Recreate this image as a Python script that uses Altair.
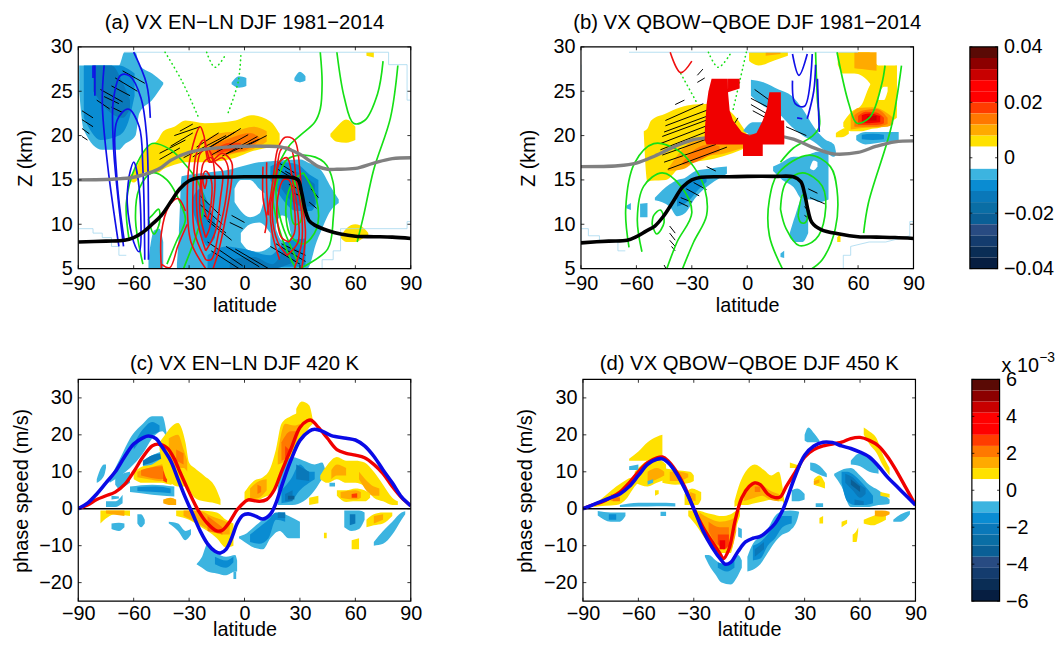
import altair as alt
import pandas as pd

FONT = "Liberation Sans"
W, H = 336, 224
LAT_TICKS = [-90, -60, -30, 0, 30, 60, 90]
Z_TICKS = [5, 10, 15, 20, 25, 30]
C_TICKS = [-20, -10, 0, 10, 20, 30]

FILL = {0: "#ffffff", 1: "#ffe100", 2: "#ffaa00", 3: "#ff7800", 4: "#ff3c00", 5: "#f00000", 6: "#c80000",
        -1: "#3cb4e0", -2: "#0a8cd2", -3: "#0a78b9", -4: "#0a5f96", -5: "#143c6e"}

# ---------- panel (a) ----------
A_BLOBS = [
    (-1, [(-89.5, 25, 27.9), (-87, 20.6, 27.9), (-77, 18.4, 27.9), (-68, 18.4, 27.9), (-65, 19, 29.4), (-59, 20, 29.4), (-57, 22.5, 28), (-50, 24, 27), (-44, 25.8, 26)]),
    (-2, [(-87, 22, 27.9), (-78, 19.5, 27.9), (-68, 20, 27.9), (-63, 21.5, 27.5), (-59.5, 24.5, 27)]),
    (-3, [(-82, 25, 27.9), (-72, 22.5, 27.9), (-66, 22, 26), (-62, 23, 24)]),
    (-1, [(-52, 5, 6), (-49, 5, 9.3), (-46, 5, 9.5), (-44, 5, 8)]),
    (-1, [(-36.6, 5, 5.5), (-35.5, 5, 9), (-34, 5, 15.4), (-21.5, 5, 15.8), (-7, 5, 16.2), (-1.8, 5, 16.5), (5.4, 5, 16.9), (14.3, 5, 17.1), (30.4, 5, 17.3), (34, 5, 17), (39, 8, 16.5), (41, 9, 16.2), (46.5, 11.5, 14.3), (51, 12.4, 12.8)]),
    (0, [(-5.4, 12.5, 14), (-2, 11.5, 15), (3, 10.8, 15), (8, 11.2, 14), (10.7, 13, 13.5)]),
    (0, [(-2, 8, 9), (3, 7, 10), (8, 6.9, 10.2), (14, 7.5, 9)]),
    (0, [(17, 9.5, 10), (20, 8.2, 11), (23, 8, 10.8), (25, 8.5, 9)]),
    (0, [(-40, 5, 5.2), (-37.5, 5, 10)]),
    (-2, [(-28, 11.5, 13), (-24, 9, 14), (-20, 7.5, 12.5), (-16, 8.5, 10.5)]),
    (-2, [(-20, 5, 6.5), (-10, 5, 7.5), (0, 5, 7.2), (14, 5, 6.5), (22, 5.2, 8), (33, 5.2, 8.4)]),
    (-3, [(-8, 5, 6), (5, 5, 6.3), (15, 5, 5.5), (24, 5.5, 7.5), (30, 6, 7)]),
    (-2, [(14, 15, 16.5), (20, 13, 17), (28, 11.5, 16.8), (36, 11.5, 15.5), (40, 13, 15)]),
    (-3, [(20, 14, 15.5), (26, 12.5, 16), (32, 12, 15.5), (38, 12, 14.5)]),
    (1, [(-63, 15.2, 15.4), (-60, 14.7, 15.9), (-54, 15.9, 18.4), (-47, 15.8, 19.5), (-44, 16.2, 20.5), (-38, 16.7, 21), (-32, 17, 21.7), (-21.5, 17, 21.4), (-5, 17.5, 21.7), (3.6, 18.2, 22.3), (14, 18.7, 21.6), (19, 19, 20.2)]),
    (2, [(-21, 17.5, 19.5), (-15, 17.5, 20.2), (-5, 18, 20.5), (5, 18.5, 21), (12, 19.3, 20.5)]),
    (3, [(-19, 17.7, 18.7), (-8, 18, 19.7), (3, 18.6, 20.3), (8, 19.5, 19.8)]),
    (4, [(-15, 18, 18.6), (-8, 18.3, 19.2), (-2, 18.6, 19.2)]),
    (1, [(46.5, 19.9, 20.2), (50, 19.3, 21), (55, 19.2, 21.8), (60, 19.5, 21)]),
    (1, [(52, 8.5, 8.6), (55, 8, 9.5), (60, 8, 10), (65, 8.5, 9.5), (67, 8.7, 9)]),
    (1, [(66, 29, 29.4), (70, 28.8, 29.4)]),
    (-1, [(-7, 25.8, 26), (-3, 25.4, 26.7), (1, 25.6, 26.5)]),
    (-1, [(27, 26.2, 26.5), (30, 26, 27.2), (33, 26.2, 26.7)]),
]
A_MASK = [
    [(-90, 9.5), (-82, 9.5), (-82, 9), (-77, 9), (-77, 8.5), (-72, 8.5), (-72, 7.5), (-68, 7.5), (-68, 6.5), (-64, 6.5)],
    [(37, 5), (42, 5), (42, 6), (48, 6), (48, 7), (52, 7), (52, 9.5), (88, 9.5), (88, 10.3), (90, 10.3)],
    [(-65, 29.4), (72, 29.4), (78, 29.4), (78, 28), (88, 28), (88, 24), (90, 24)],
]
A_HATCH = [
    (-66, 27.3, -54, 25.9), (-70, 26.5, -58, 25), (-72, 25.6, -62, 24.5), (-78, 25.2, -66, 23.8), (-76, 24.4, -68, 23.6), (-80, 24, -73, 23),
    (-72, 23.2, -66, 22.6), (-88, 22.8, -82, 22), (-88, 21.8, -82, 21), (-88, 20.8, -84, 20.2), (-88, 19.9, -85, 19.5),
    (-46, 17.3, -35, 18.6), (-46, 18, -32, 19.5), (-40, 18.8, -28, 20.3), (-38, 20, -24, 21), (-35, 20.5, -28, 21.3),
    (-33, 17.5, -10, 20), (-28, 17.6, -5, 20.4), (-18, 17.8, 2, 20.1), (-12, 17.7, 7, 19.9), (-20, 18.5, -2, 20.8), (-26, 18.7, -14, 20.3), (-10, 17.9, 8, 19.6), (-2, 18.5, 12, 20),
    (-24, 13.2, -13, 11), (-24, 12.2, -12, 10), (-22, 11, -10, 9), (-20, 10.4, -7, 8.2), (-7, 11, 0, 10.2), (-8, 10.2, -1, 9.5),
    (-18, 7, -3, 5), (-20, 8, -1, 5.3), (-10, 7.5, 8, 5.2), (-5, 7.2, 13, 5),
    (14, 7.5, 30, 5.5), (17, 7.8, 33, 5.8), (20, 7.8, 33, 6.5),
    (18, 17, 27, 15.8), (18, 16.2, 30, 14.7), (22, 16, 30, 15), (24, 14.5, 31, 13.8), (27, 13.5, 32, 13), (35, 12.5, 39, 11.8), (36, 14, 40, 13),
]
A_GREEN = [
    [(41, 29.4), (42, 26), (41, 23), (38, 21.5), (30, 20), (24, 18.8), (19, 17), (16, 15.4), (15, 13.5), (18, 10), (24, 6.5), (28, 5)],
    [(30, 5), (45, 7.2), (48, 10.6), (48, 14.7), (43, 17), (32, 17.8), (23, 17.3), (19, 15.7), (17, 13.9), (20, 10.2), (29, 5.7)],
    [(32, 15.8), (39, 12.8), (39, 9.5), (32, 7.8), (25, 8.7), (22.5, 12.4), (27, 15), (32, 15.8)],
    [(27, 14.8), (31, 12.5), (30, 10.2), (27, 10), (25, 12), (27, 14.8)],
    [(50, 29.4), (54, 24.3), (59, 21.4), (65, 21.7), (72, 24.7), (75, 28.4)],
    [(83, 27.9), (79, 22), (70, 16.2), (64.5, 11), (61, 8)],
    [(-62.5, 8.3), (-64, 12.4), (-59, 16.5), (-50, 19.1), (-40, 18.4), (-34, 17.2), (-25, 14.7), (-22, 12.4), (-25, 9.5), (-33, 5)],
    [(-55, 5.5), (-59, 10.5), (-57, 14), (-50, 15.8), (-42, 15), (-34, 12), (-32, 10.5), (-37, 8), (-42, 5.5)],
    [(-52, 10.6), (-49, 8.9), (-46, 10.2), (-46.5, 11.7), (-50, 11), (-52, 10.6)],
]
A_DOTS = [
    [(-43, 29.4), (-34, 26.2), (-25, 22.1)],
    [(-20.5, 29.4), (-16, 27.7), (-10, 29.2)],
    [(-2, 29), (-3.5, 26), (-9, 22.5)],
]
A_RED = [
    [(-45, 5.5), (-40.5, 5.1), (-36, 7.6), (-31, 10)],
    [(-45, 5), (-45, 9), (-41, 12), (-36, 12.9), (-32, 11.5)],
    [(-21, 5), (-29, 8), (-31, 13), (-29, 18), (-24, 21), (-22, 20), (-19, 17), (-12, 18), (-7, 17), (-7, 15), (-10, 11), (-14, 7), (-17, 5)],
    [(-21, 6), (-27, 9), (-28, 13), (-26, 18), (-22, 19.5), (-18, 17), (-12, 17.5), (-9, 16.5), (-10, 13), (-14, 9), (-18, 6), (-21, 6)],
    [(-21, 7), (-25, 10), (-26, 14), (-24, 18), (-20, 18.5), (-16, 17), (-12, 16), (-13, 13), (-16, 9), (-21, 7)],
    [(-21, 8.5), (-24, 11), (-24, 14), (-22, 17), (-18, 17.5), (-16, 15), (-17, 12), (-19, 9.5), (-21, 8.5)],
    [(-20, 10.5), (-22, 12), (-23, 15), (-21, 16), (-18, 15), (-18, 12.5), (-20, 10.5)],
    [(-21.5, 14), (-22.5, 15), (-21.5, 15.5), (-20.5, 15), (-21.5, 14)],
    [(31, 5), (33, 9), (31, 13), (30, 16), (27, 19.5), (22, 19.8), (18, 18.5), (16, 16), (14, 13), (12, 11)],
    [(27, 5), (31, 8), (31, 11), (28, 15), (25, 18.5), (20, 18.5), (17, 15), (14, 12), (15, 9), (19, 6)],
    [(23, 6.5), (29, 8), (29, 11), (26, 15), (23, 17.5), (19, 17), (16, 14), (15, 11), (18, 8), (23, 6.5)],
    [(24, 8), (27, 9), (27, 12), (24, 15), (21, 15), (18, 13), (18, 10), (20, 8.5), (24, 8)],
    [(10, 16.5), (10, 13), (12, 10.5), (11, 9)],
    [(12, 17), (12, 14), (13, 11)],
]
A_BLUE = [
    [(-60, 29.4), (-53, 25.8), (-51, 22)],
    [(-76, 27.9), (-77, 23.6), (-74, 16.5), (-68, 7.5)],
    [(-65.5, 7.5), (-69, 14), (-71, 19), (-71, 24), (-67, 26.8), (-62, 26.7), (-56, 24.2), (-53, 20), (-52, 12), (-52, 6)],
    [(-65, 8), (-69, 15), (-69, 21.7), (-63, 23), (-57, 21), (-55, 16.2), (-54, 6)],
    [(-62.5, 15.4), (-60, 17), (-57, 14), (-57, 6.9), (-60, 8), (-63.5, 12.4), (-62.5, 15.4)],
    [(-82, 27.9), (-82, 26.5)],
    [(-81, 27.9), (-81, 24.5)],
]
A_GRAY = [(-90, 15), (-70, 15.1), (-60, 15.3), (-50, 15.9), (-45, 16.4), (-40, 17.2), (-30, 18.1), (-20, 18.5), (-10, 18.7), (0, 18.8), (10, 18.8), (20, 18.7), (30, 17.9), (35, 17.2), (40, 16.5), (45, 16.2), (50, 16.2), (60, 16.3), (70, 16.9), (80, 17.4), (90, 17.5)]
A_BLACK = [(-90, 8), (-75, 8.1), (-65, 8.2), (-60, 8.5), (-55, 9.1), (-50, 10), (-45, 11), (-40, 12.5), (-35, 14), (-30, 14.9), (-25, 15.25), (-15, 15.3), (0, 15.35), (15, 15.35), (25, 15.3), (29, 15), (31, 13.5), (33, 11.5), (35, 10.4), (38, 9.9), (45, 9.3), (52, 8.9), (60, 8.65), (70, 8.6), (80, 8.55), (90, 8.4)]

# ---------- panel (b) ----------
B_BLOBS = [
    (1, [(-56, 20.2, 20.5), (-54, 14.8, 20.8), (-52, 14.9, 21.7), (-44, 15, 22.5), (-36, 16.5, 23.2), (-29, 17, 23.5), (-18, 17.4, 23.6), (-8, 18, 22.5), (1, 18.8, 19.8)]),
    (2, [(-43, 16, 16.2), (-35, 16.2, 18.5), (-25, 17.5, 19.8), (-12, 18, 20), (0, 18.8, 19.5)]),
    (3, [(-35, 16.7, 17), (-28, 17, 18.5), (-20, 17.8, 19), (-15, 18.2, 18.8)]),
    (1, [(1, 28.4, 29.4), (6, 27.9, 29.4), (15, 28.5, 29.4), (22, 29, 29.4)]),
    (2, [(10, 29, 29.4), (18, 29.2, 29.4)]),
    (1, [(49, 28, 29.4), (52, 27, 29.4), (58, 27, 29.4), (66, 26, 29.4), (71, 24, 27.9), (80, 22, 27.9), (81, 23, 27.9)]),
    (1, [(52, 21, 21.5), (56, 20.5, 22.6), (62, 20.5, 23.5), (66, 20.7, 25.5), (72, 20.9, 27), (81, 22, 27.9)]),
    (0, [(71, 24, 24.5), (74, 24, 25.5), (76, 25, 25.5)]),
    (2, [(58, 27.6, 29.4), (62, 27.5, 29.4), (70, 27.3, 29.4)]),
    (2, [(56, 20.7, 22.2), (60, 20.8, 23.1), (68, 20.9, 23.2), (76, 21, 22.5), (79, 21.3, 22)]),
    (3, [(58, 21, 22.3), (62, 21, 22.8), (70, 21, 23), (76, 21.3, 22)]),
    (4, [(60, 21.2, 22.2), (64, 21.2, 22.7), (70, 21.2, 22.6), (74, 21.4, 22)]),
    (5, [(62, 21.4, 22.3), (66, 21.4, 22.5), (72, 21.5, 22.2)]),
    (6, [(65, 21.7, 22.2), (70, 21.7, 22.2)]),
    (1, [(48, 19.8, 20.3), (51, 19.8, 20.7), (55, 20.2, 20.9)]),
    (-1, [(59, 19.5, 20), (64, 19, 20.4), (75, 19.3, 20.4), (82, 19.4, 20.4)]),
    (-2, [(62, 19.6, 20.1), (68, 19.5, 20.2), (74, 19.6, 20.1)]),
    (-1, [(2, 24.5, 26.3), (9, 23.3, 26), (17, 22.5, 25.2), (24, 21, 24.5), (30, 20, 23), (36, 19.3, 21), (42, 18.3, 19.6), (47, 17.6, 19), (48, 17.8, 18.2)]),
    (-1, [(-2, 20.5, 20.6), (3, 20, 21.5), (10, 19.8, 21.5), (16, 20, 21)]),
    (-1, [(-50, 12.7, 13), (-42, 12, 14.5), (-38, 10.9, 15), (-34, 11.2, 15.2), (-28, 13, 16), (-20, 14.5, 16.3), (-11, 15.7, 16.5)]),
    (-2, [(-38, 12, 13), (-32, 12.6, 14.5), (-26, 14, 15.3), (-22, 14.8, 15.1)]),
    (-1, [(14, 16, 16.5), (19, 15, 17), (25, 14.2, 17.6), (30, 12.8, 17.6), (35, 12.8, 18), (39, 12.5, 18.2), (44, 12.8, 18)]),
    (0, [(34, 16.3, 16.4), (36, 16.1, 17.2), (38, 16.5, 17)]),
    (-1, [(23, 8.5, 9), (26, 8, 11), (30, 8, 13), (33, 9, 12)]),
    (-1, [(-65.5, 11.8, 12.1), (-63, 11.6, 12.4)]),
    (-1, [(-58, 10.8, 12.3), (-54, 10.8, 12.4)]),
    (-1, [(18, 6.3, 6.7), (20, 6.2, 7)]),
    (1, [(48.7, 8, 8.5), (50.5, 8, 9)]),
]
B_MASK = [
    [(-90, 9.5), (-86, 9.5), (-86, 8.7), (-80, 8.7), (-80, 8.2), (-70, 8), (-70, 7), (-66, 7)],
    [(45, 5), (52, 5), (52, 6.5), (56, 6.5), (56, 7.5), (66, 8), (75, 8), (88, 8.7), (88, 10.3), (90, 10.3)],
    [(-64, 29.4), (60, 29.4)],
    [(-90, 8), (-90, 28)],
]
B_HATCH = [
    (-44.3, 21.7, -23.8, 23.6), (-44.3, 21.1, -20, 23), (-45, 20.4, -19, 22.4), (-46, 19.9, -20, 21.9), (-47, 19.1, -22, 21.1), (-47, 18.4, -20, 20.6), (-46, 17.8, -18, 19.9), (-45, 17, -17, 19), (-43, 16.2, -11, 18.7),
    (-12, 19.3, -5, 20), (-8, 21, -5, 22), (-27, 26.8, -24, 27.5), (-27, 26, -23, 26.5),
    (4, 25.2, 14, 23.7), (2, 24.2, 15, 22.8), (2, 23.5, 12, 22.3), (3, 22.8, 12, 21.8), (21, 21, 32, 20), (22, 19.8, 30, 19.3),
    (-29, 14.7, -22, 13.9), (-33, 14, -26, 13.2), (-36, 13, -30, 12.5), (-37, 12.5, -32, 12), (-22, 16.5, -17, 16),
    (33, 14, 38, 13.5), (34, 13, 42, 12.3), (31, 12, 33, 11.5), (31, 11, 33, 10.7),
    (-42, 9.8, -39, 9), (-42, 9, -39, 8.2), (-42, 8.2, -39, 7.5), (-41, 7.5, -39, 7), (-45, 5.4, -44, 5), (-39, 23.5, -34, 24),
]
B_U = [
    (5, [(-23, 19.5, 20.5), (-22, 19, 23.5), (-21, 19, 25), (-19.3, 19, 26.4), (-10.5, 19, 26.4), (-10.4, 19, 24.9), (-9.5, 19, 22.8), (-7.7, 19, 21.7), (-3, 19, 20.4), (1.3, 19, 20), (5, 19, 20.3), (8.4, 19, 21.7), (10.5, 19, 23), (12, 19, 24.9), (18.2, 19, 24.9), (18.3, 19, 21.7), (20, 19, 21.7), (20.1, 19.3, 19.4)]),
    (5, [(-10.4, 24.9, 26.4), (-4.1, 25.3, 26.4)]),
    (5, [(-2.3, 17.7, 19.5), (8.4, 17.7, 19.5)]),
]
B_GREEN = [
    [(-64, 7.4), (-65.8, 11.7), (-61, 16.9), (-50.6, 19.1), (-38, 18.4), (-29, 16.5), (-23, 14), (-22, 11), (-29, 8), (-35, 5)],
    [(-57, 6.9), (-59.5, 10.6), (-56, 14.3), (-46, 15.8), (-36, 14.3), (-30, 11.3), (-38, 8), (-43.5, 5)],
    [(-51.5, 10), (-49, 8.9), (-45, 10.2), (-47, 11.6), (-50.6, 11), (-51.5, 10)],
    [(19, 5), (12, 8.7), (12, 12.8), (17, 15.8), (33.5, 17.8), (45, 16.5), (48.6, 13.9), (47.7, 9.5), (40.6, 6), (35, 5)],
    [(18, 11.7), (21, 14.7), (30, 15.8), (40.6, 14.3), (42, 10.9), (37, 8.3), (28, 7.6), (21, 9.5), (18, 11.7)],
    [(27.5, 11), (30, 13.3), (32.5, 11.7), (31.6, 10.2), (29, 10.2), (27.5, 11)],
    [(37, 29.4), (38, 24), (39, 21), (35, 19.9), (25, 18.6), (18, 17)],
    [(48.6, 29.4), (55, 23.6), (59.4, 21.4), (66.5, 22.1), (72.8, 25.8), (74.6, 27.9)],
    [(83.5, 27.9), (78, 21), (65.6, 12.4), (63, 9)],
]
B_DOTS = [
    [(-21, 29.4), (-15.7, 27.7), (-8.6, 29.4)],
    [(-0.5, 29.4), (-4, 26.2), (-7.7, 22.9)],
    [(-36, 27), (-27, 23.6)],
]
B_RED = [[(-41.7, 29.4), (-36, 27.1), (-30, 28.4)]]
B_BLUE = [
    [(24.5, 29.2), (28, 26.8), (32.5, 29.2)],
    [(24.5, 26.2), (26, 23.6), (31, 23.3), (35.2, 29.2)],
    [(38, 26.4), (39, 20.4)],
    [(27, 22), (29.8, 21.9)],
    [(32.5, 21.9), (36, 25), (37, 28)],
]
B_GRAY = [(-90, 16.5), (-70, 16.6), (-60, 16.9), (-50, 17.7), (-40, 18.7), (-30, 19.5), (-20, 19.8), (-10, 20), (0, 20), (15, 20), (25, 19.6), (35, 18.7), (45, 18), (50, 17.9), (60, 18.1), (70, 18.8), (80, 19.3), (90, 19.4)]
B_BLACK = [(-90, 7.9), (-75, 8.1), (-65, 8.2), (-60, 8.6), (-55, 9.2), (-50, 9.8), (-45, 11), (-40, 12.6), (-35, 14.2), (-30, 15), (-25, 15.3), (-10, 15.35), (0, 15.4), (15, 15.4), (25, 15.35), (29, 14.8), (31, 13.5), (33, 11.5), (35, 10.2), (40, 9.4), (50, 8.9), (60, 8.6), (70, 8.55), (80, 8.5), (90, 8.4)]

# ---------- panel (c) ----------
C_BLOBS = [
    (-1, [(-73, 7, 8), (-67, 9, 14), (-62, 11, 19), (-55, 15, 23), (-50, 19, 25), (-44.5, 21, 25), (-42, 19, 20)]),
    (-2, [(-60, 16, 17.5), (-55, 19, 21.5), (-50, 20, 23.5), (-46, 21, 22.5)]),
    (-1, [(-80, 7, 8), (-76, 9, 12), (-75, 11, 12)]),
    (-1, [(-70, 6.5, 8), (-68, 5.5, 9), (-62, 7, 10)]),
    (-1, [(-62, 4.5, 6), (-50, 3.8, 6.5), (-38, 3.3, 6)]),
    (-2, [(-58, 4.8, 5.8), (-48, 4.5, 6), (-40, 4.2, 5.5)]),
    (-1, [(-75, 0.5, 2), (-70, 0.5, 2), (-66, 1.5, 3.8)]),
    (-1, [(-72, 2.5, 3.5), (-68, 2.8, 3.3)]),
    (-1, [(-55, 11.5, 13), (-50, 11.8, 14.5), (-45, 13, 15.5), (-41, 14, 16)]),
    (-3, [(-55, 11.8, 13), (-50, 12.5, 14.5), (-45, 13.5, 15), (-42, 14, 15.5)]),
    (1, [(-60, 8, 10), (-55, 7, 11.5), (-50, 7, 12), (-45, 7, 13.5), (-40, 6.5, 14), (-38, 7, 11)]),
    (2, [(-58, 8.5, 10), (-52, 8, 11), (-45, 7.5, 12), (-40, 8, 12.5)]),
    (3, [(-56, 9, 10.5), (-45, 8, 11.5), (-40, 9, 11.5)]),
    (4, [(-44, 7.5, 10), (-42, 7, 11)]),
    (1, [(-46, 16, 18), (-43, 9, 20), (-40, 7, 22), (-36, 6, 23.2), (-32, 6, 18), (-30, 5, 12.5), (-27, 3, 11), (-22, 2, 9), (-16, 1.5, 6), (-13, 1, 2.5)]),
    (2, [(-41, 13, 19), (-36, 11, 20), (-33, 11, 16), (-31, 10, 13)]),
    (3, [(-37, 13, 16), (-33, 12, 15)]),
    (2, [(-44, 1.5, 2.5), (-40, 1, 3), (-37, 1, 2.5)]),
    (1, [(-78, -4, -0.5), (-70, -1.5, -0.5), (-62, -2, -0.5)]),
    (2, [(-75, -1.3, -0.5), (-65, -2, -0.5)]),
    (-1, [(-72, -5.5, -4), (-68, -6, -3.8), (-65, -5, -4)]),
    (-1, [(-58, -4, -1.5), (-56, -5, -1.5), (-54, -4, -3)]),
    (-1, [(-41, -4, -3.5), (-36, -6, -4), (-32, -8.5, -6), (-29, -7, -5.5)]),
    (1, [(-37, -2, -0.5), (-30, -3, -0.5), (-25, -4.5, -0.5), (-15, -8, -1), (-10, -10.5, -3), (-6, -10, -4)]),
    (2, [(-33, -2, -0.5), (-25, -4, -0.5), (-18, -6, -2), (-10, -7, -3.5), (-8, -7, -4)]),
    (3, [(-20, -6, -2), (-12, -7, -5)]),
    (-1, [(-26, -15, -15), (-23, -16, -13), (-20, -17, -9.5), (-15, -17.5, -12), (-10, -18, -13), (-5, -17, -12.5), (-4, -17, -14)]),
    (-1, [(-6, -19, -17), (-4.5, -19, -17)]),
    (-2, [(-16, -15, -13), (-10, -16, -14), (-6, -14.5, -13)]),
    (-1, [(-3, -8, -7.5), (0, -9, -7), (5, -10.5, -5), (10, -11, -3), (14, -8, -2), (19, -6, -1), (24, -8, -2), (30, -8, -3.5)]),
    (-2, [(3, -9, -7), (8, -9.5, -5), (13, -8, -3), (17, -3, -1), (22, -3.5, -1)]),
    (-3, [(18, -2.5, -1), (22, -2.5, -1)]),
    (1, [(28, 20, 27), (31, 19, 29), (35, 22, 28), (37, 23, 24)]),
    (1, [(0, 2, 4.5), (5, 2, 7.5), (10, 3, 8.5), (14, 4, 11), (17, 6, 16), (20, 9, 23), (25, 13, 25), (30, 18, 26), (33, 21, 24)]),
    (2, [(3, 2.5, 5.5), (8, 3, 7.5), (12, 5, 8)]),
    (2, [(18, 12, 15), (22, 13, 23), (27, 17, 22.5), (30, 21, 23)]),
    (3, [(7, 4, 6.5), (9, 4.5, 6)]),
    (3, [(20, 13, 18), (25, 15, 21), (28, 19, 21)]),
    (4, [(22, 13, 17), (24, 14, 16)]),
    (-1, [(18, 1, 6), (22, 1, 12), (26, 1, 14), (32, 2, 13), (38, 5, 12), (42, 8, 12.5), (44, 9, 10)]),
    (-2, [(20, 1.5, 5), (25, 2, 8), (30, 5, 12), (35, 7, 10), (38, 8, 10)]),
    (-3, [(22, 2, 4), (26, 2, 5)]),
    (-3, [(28, 8, 12), (35, 7.5, 10)]),
    (-4, [(23.5, 2.5, 3.5), (27, 2.5, 3.5)]),
    (1, [(41, 8, 9), (45, 7, 12), (50, 8, 14), (55, 7, 13), (60, 7, 13), (65, 6, 12.5), (70, 3, 10), (75, 2, 6.5), (80, 1, 3), (83, 1, 2)]),
    (2, [(47, 8, 10.5), (50, 9, 12), (55, 9, 11)]),
    (2, [(62, 8, 10), (70, 3.5, 6), (73, 3.5, 5.5)]),
    (1, [(50, 3.5, 5), (55, 1.8, 5), (60, 2, 5.5), (65, 2, 5), (68, 3, 4)]),
    (2, [(52, 3, 4.5), (60, 2.5, 5), (63, 3, 4.5)]),
    (4, [(58, 3, 4), (61, 3, 4.2)]),
    (-1, [(46, 6, 7), (49, 6, 7)]),
    (1, [(35, 1, 3), (40, 1.5, 3.5)]),
    (-1, [(54, -5, -0.5), (58, -6, -0.5), (62, -5.5, -0.5), (65, -3, -1)]),
    (-3, [(57, -4.5, -1.5), (60, -4, -1.5)]),
    (1, [(66, -5, -3), (70, -4.5, -1.5), (75, -4, -1), (80, -2, -1)]),
    (2, [(70, -4, -2), (75, -3, -1.5)]),
    (-1, [(70, -10, -9), (75, -9.5, -6), (80, -7, -3.5), (85, -3, -1), (87, -1.5, -0.7)]),
    (1, [(58, -11, -8.5), (62, -11, -8)]),
    (1, [(43, -8, -6.5), (44.5, -8, -6.5)]),
]
C_RED = [(-90, 0), (-85, 1), (-80, 2.5), (-75, 3.5), (-70, 4.5), (-65, 6.5), (-60, 10), (-55, 14), (-50, 17), (-47, 17.5), (-42, 16.5), (-38, 13.5), (-35, 10), (-30, 4.5), (-25, -0.5), (-20, -4), (-15, -6), (-12, -5.8), (-8, -3.5), (-4, -0.3), (0, 1.8), (2, 2.4), (8, 2), (12, 2.5), (16, 5), (20, 10), (25, 16), (30, 22), (34, 23.8), (36, 24), (40, 22), (45, 19), (50, 16), (55, 15), (60, 14.5), (65, 13.8), (70, 12), (75, 9.5), (80, 6), (85, 3), (90, 0.8)]
C_BLUE = [(-90, 0), (-85, 1.5), (-80, 4), (-75, 7), (-70, 10), (-65, 14), (-60, 17.5), (-55, 19.2), (-52, 19.7), (-48, 19), (-45, 17), (-40, 13), (-36, 8), (-32, 3), (-28, -1.5), (-24, -6), (-20, -9.5), (-16, -11.5), (-13, -12), (-10, -11), (-7, -8), (-4, -4), (-1, -1.8), (2, -1.4), (6, -2), (10, -2.8), (14, -1.5), (17, 1.5), (20, 6), (25, 13), (30, 18.5), (35, 21), (38, 21.5), (42, 21), (47, 19.8), (55, 19.1), (60, 18.6), (65, 17), (70, 14.2), (75, 10.5), (80, 7), (85, 3.2), (90, 0.8)]

# ---------- panel (d) ----------
D_BLOBS = [
    (1, [(-84, 0.5, 1), (-78, 0.8, 3.5), (-72, 1, 6), (-66, 3, 8), (-62, 6, 9), (-58, 8, 12)]),
    (1, [(-65, 13, 13.5), (-60, 13, 15.5), (-55, 13, 18), (-50, 14, 19.5), (-47, 14.5, 20)]),
    (1, [(-62, 7, 10), (-55, 6, 13), (-50, 7, 13.5), (-45, 8, 12)]),
    (1, [(-47, 7, 11), (-40, 6.5, 10.5), (-32, 7, 10), (-30, 7.5, 9)]),
    (2, [(-75, 2, 4), (-70, 2.5, 4)]),
    (2, [(-55, 7, 10), (-50, 8, 11), (-46, 9, 10)]),
    (2, [(-43, 7.5, 10), (-38, 7.5, 10), (-33, 8.5, 9.5)]),
    (3, [(-74, 2, 3.5), (-70, 2, 3)]),
    (1, [(-35, 1, 4), (-31, 1, 5.5), (-28, 1, 5), (-26, 2.5, 4.5)]),
    (2, [(-32, 2.5, 4.5), (-29, 2, 4)]),
    (1, [(-51, 3.5, 5), (-49, 4, 5)]),
    (-1, [(-65, 10.5, 11.5), (-60, 10.5, 12)]),
    (-1, [(-55, 6.5, 7.5), (-52, 7, 8)]),
    (-1, [(-70, 0.5, 1), (-60, 0.6, 1.6), (-50, 0.7, 1.6), (-40, 0.6, 1.5)]),
    (-1, [(-82, -1.8, -0.6), (-75, -3.5, -1), (-70, -3.5, -1), (-67, -2, -1)]),
    (-2, [(-76, -3, -1.5), (-72, -3, -1.5)]),
    (-1, [(-48, -2, -0.8), (-45, -2, -0.8)]),
    (1, [(-33, -2, -0.5), (-28, -5, -0.5), (-24, -8, -1), (-20, -10, -1.5), (-15, -12, -2), (-10, -12, -1.5), (-7, -5, -0.6), (-5, -2, -0.5)]),
    (2, [(-27, -3, -1), (-22, -7, -2.5), (-16, -11, -3.5), (-10, -11, -3), (-7, -6, -2)]),
    (3, [(-22, -6, -3.5), (-16, -10, -5), (-11, -10, -5)]),
    (4, [(-17, -9.5, -7), (-14, -11, -7), (-11, -10, -7)]),
    (5, [(-16, -11, -8.5), (-13, -11, -8.5)]),
    (-1, [(-24, -13, -12.5), (-22, -15, -12.5), (-18, -18, -14), (-15, -20, -15), (-10, -20.5, -15), (-6, -18, -12.5), (-4, -16, -14)]),
    (-2, [(-17, -16, -14.5), (-12, -17, -15), (-8, -16, -13)]),
    (-1, [(-6, -7.5, -5), (-4, -8, -5.5)]),
    (-1, [(-1, -17, -13), (2, -16.5, -9.5), (6, -15, -7.5), (10, -12, -5.5), (14, -9, -2), (18, -7, -0.7), (22, -6, -0.5), (26, -3, -0.7), (27, -1, -0.8)]),
    (-2, [(2, -14, -10), (6, -13.5, -9), (10, -10, -7), (14, -8, -4), (18, -5, -2), (23, -4, -2)]),
    (-3, [(3, -13, -11), (8, -11, -9)]),
    (1, [(-8, 0.5, 2), (-5, 1, 7), (-2, 1, 10), (3, 1.5, 12), (8, 2, 10.5), (12, 2.5, 9), (16, 2, 10), (18, 2, 6), (19, 1, 2)]),
    (2, [(-3, 2, 5), (3, 3, 7.5), (7, 3.5, 6.5), (11, 2.5, 5), (16, 2, 4)]),
    (3, [(3, 4.5, 6), (6, 4.5, 6)]),
    (1, [(22, 11, 12.5), (28, 11, 11.5)]),
    (1, [(35, 6.5, 8), (38, 6, 9), (41, 5.5, 7)]),
    (2, [(35, 6.5, 7.5), (38, 7, 8)]),
    (-1, [(30, 18.5, 20), (32, 18, 22), (35, 18, 20.5), (38, 18, 18.5)]),
    (-1, [(33, 10.5, 12.5), (37, 9.5, 12), (42, 8.5, 9.5)]),
    (-1, [(23, 2, 5), (26, 2, 5.5), (30, 2.5, 4)]),
    (-1, [(46, 9, 9.5), (50, 6, 10.5), (55, 0.5, 11), (60, 0.5, 9), (65, 0.5, 6.5), (70, 1, 5), (75, 1.2, 3), (76, 1.5, 2.5)]),
    (-2, [(50, 7, 10), (53, 2, 10), (57, 1, 9), (62, 1, 6.5), (67, 1.5, 3.5)]),
    (-3, [(52, 7, 9.5), (56, 5, 8.5), (60, 3, 6.5), (63, 4, 5.5)]),
    (-3, [(57, 1, 2.5), (62, 1, 2)]),
    (-4, [(55, 6.5, 8), (60, 4.5, 6)]),
    (-1, [(55, 12, 13), (60, 11.5, 15), (65, 10, 14), (70, 9.5, 11.5)]),
    (1, [(62, 20, 22), (65, 17.5, 21), (69, 15, 19), (72, 12, 15), (76, 9, 11)]),
    (1, [(71, 3.5, 4.5), (76, 3, 4)]),
    (1, [(62, -4, -3), (67, -4.5, -2), (70, -4, -1.5), (74, -3, -2)]),
    (2, [(68, -2, -0.5), (72, -2.2, -0.5), (76, -1.5, -0.8)]),
    (1, [(56, -9, -7), (58, -9, -6), (59, -6, -5)]),
    (1, [(38, -4, -2.5), (40, -4, -2)]),
    (1, [(50, -5, -3.5), (53, -4, -3)]),
    (-1, [(78, -3.5, -3), (82, -3.5, -1.5), (87, -1.5, -0.6)]),
    (-1, [(36, 0.5, 1.5), (40, 0.5, 1.5)]),
]
D_RED = [(-90, 0), (-85, 1), (-80, 1.8), (-75, 3), (-70, 4.5), (-65, 7), (-60, 10), (-55, 12.5), (-50, 13.8), (-47, 14), (-44, 13), (-40, 10.5), (-35, 6), (-30, 0), (-25, -5), (-20, -9), (-16, -12), (-14, -13.5), (-11, -11), (-8, -4), (-6, 0), (-4, 3), (0, 6), (3, 7), (6, 6.5), (10, 4), (14, 3), (17, 3.3), (20, 6), (25, 10), (30, 14), (35, 16), (40, 17), (50, 18), (55, 19), (60, 19.3), (65, 18.5), (70, 17), (75, 14), (80, 10), (85, 5.5), (90, 1)]
D_BLUE = [(-90, 0), (-85, 1), (-80, 2), (-75, 3), (-70, 4), (-65, 6), (-60, 9), (-55, 12), (-50, 13.4), (-47, 13.5), (-44, 12.5), (-40, 10), (-35, 5.5), (-30, 0), (-25, -6), (-20, -10.5), (-15, -14), (-13, -15), (-10, -14.5), (-6, -11.5), (-2, -9), (2, -8), (6, -7.5), (10, -6), (14, -4), (18, -0.5), (20, 2), (25, 9), (30, 14.5), (35, 17), (40, 18), (45, 17.9), (50, 17), (55, 16.3), (60, 15.3), (65, 14), (70, 11.5), (75, 8.5), (80, 6), (85, 3.5), (90, 1)]

# ---------- colour bars ----------
BAR_COLORS = ["#5a0a05", "#8c0000", "#c80000", "#ff0000", "#ff0000", "#ff3c00", "#ff7800", "#ffaa00", "#ffe100", "#ffffff",
              "#ffffff", "#3cb4e0", "#0a8cd2", "#0a78b9", "#0a6ea5", "#0a5f96", "#284b82", "#143c6e", "#0a2d55", "#061e41"]
BAR1_EDGES = [0.04, 0.036, 0.032, 0.028, 0.024, 0.02, 0.016, 0.012, 0.008, 0.004, 0, -0.004, -0.008, -0.012, -0.016, -0.02, -0.024, -0.028, -0.032, -0.036, -0.04]
BAR2_EDGES = [6, 5.4, 4.8, 4.2, 3.6, 3, 2.4, 1.8, 1.2, 0.6, 0, -0.6, -1.2, -1.8, -2.4, -3, -3.6, -4.2, -4.8, -5.4, -6]
BAR1_TICKS = [0.04, 0.02, 0, -0.02, -0.04]
BAR2_TICKS = [6, 4, 2, 0, -2, -4, -6]

XS = alt.Scale(domain=[-90, 90], nice=False, zero=False)


def x_axis(label_pad, title_pad):
    return alt.Axis(values=LAT_TICKS, grid=False, domain=False, ticks=False, labelPadding=label_pad, labelAngle=0, format="d", labelFlush=False, labelOverlap=False, title="latitude", titlePadding=title_pad)


XAX_TOP = x_axis(5, 2)
XAX_LOW = x_axis(3, -4)


def blob_df(blobs):
    rows = []
    for b, (lev, pts) in enumerate(blobs):
        for i, (x, lo, hi) in enumerate(pts):
            rows.append(dict(b=b, i=i, x=x, lo=lo, hi=hi, f=FILL[lev]))
    return pd.DataFrame(rows)


def line_df(paths):
    rows = []
    for b, pts in enumerate(paths):
        for i, (x, y) in enumerate(pts):
            rows.append(dict(b=b, i=i, x=x, y=y))
    return pd.DataFrame(rows)


def x_enc(ya):
    return alt.X("x:Q", scale=XS, axis=ya[2])


def y_enc(field, ya):
    return alt.Y(field, scale=ya[0], axis=ya[1])


def y_spec(domain, ticks, title, tp, xax):
    return (alt.Scale(domain=domain, nice=False, zero=False),
            alt.Axis(values=ticks, grid=False, domain=False, ticks=False, labelPadding=6, format="d", labelOverlap=False, title=title, titlePadding=tp),
            xax)


def blobs_layer(blobs, ya, interp="monotone"):
    return alt.Chart(blob_df(blobs)).mark_area(interpolate=interp, clip=True).encode(
        x=x_enc(ya), y=y_enc("lo:Q", ya), y2="hi:Q",
        color=alt.Color("f:N", scale=None), detail="b:N")


def lines_layer(paths, ya, color, width, interp="catmull-rom", dash=None):
    kw = dict(color=color, strokeWidth=width, interpolate=interp, clip=True)
    if dash:
        kw.update(strokeDash=dash, strokeCap="round")
    return alt.Chart(line_df(paths)).mark_line(**kw).encode(
        x=x_enc(ya), y=y_enc("y:Q", ya), detail="b:N", order="i:Q")


def hatch_layer(segs, ya):
    df = pd.DataFrame(segs, columns=["x", "y", "x2", "y2"])
    return alt.Chart(df).mark_rule(color="black", strokeWidth=1, clip=True).encode(
        x=x_enc(ya), x2="x2:Q", y=y_enc("y:Q", ya), y2="y2:Q")


def inner_ticks(y_ticks, ya, w=W, h=H, L=3.4):
    dx = pd.DataFrame({"x": LAT_TICKS})
    dy = pd.DataFrame({"y": y_ticks})
    rule = dict(color="black", strokeWidth=0.8)
    return [
        alt.Chart(dx).mark_rule(**rule).encode(x=x_enc(ya), y=alt.value(h), y2=alt.value(h - L)),
        alt.Chart(dx).mark_rule(**rule).encode(x=x_enc(ya), y=alt.value(0), y2=alt.value(L)),
        alt.Chart(dy).mark_rule(**rule).encode(y=y_enc("y:Q", ya), x=alt.value(0), x2=alt.value(L)),
        alt.Chart(dy).mark_rule(**rule).encode(y=y_enc("y:Q", ya), x=alt.value(w), x2=alt.value(w - L)),
    ]


def box(w=W, h=H):
    return alt.Chart(pd.DataFrame({"k": [0]})).mark_rect(fillOpacity=0, stroke="black", strokeWidth=1.2).encode(
        x=alt.value(0), x2=alt.value(w), y=alt.value(0), y2=alt.value(h))


def spacer(w):
    return alt.Chart(pd.DataFrame({"k": [0]})).mark_point(opacity=0).encode(x=alt.value(0), y=alt.value(0)).properties(width=w, height=10)


def top_panel(title, ylab, blobs, mask, hatch, green, dots, red, blue, gray, black, extra=None):
    ya = y_spec([5, 30], Z_TICKS, ylab, 15, XAX_TOP)
    layers = [blobs_layer(blobs, ya),
              lines_layer(mask, ya, "#a5d8ee", 0.8, interp="linear"),
              hatch_layer(hatch, ya),
              lines_layer(green, ya, "#16e016", 1.7),
              lines_layer(dots, ya, "#16e016", 1.6, dash=[0.5, 4]),
              lines_layer(red, ya, "#f01010", 1.6),
              lines_layer(blue, ya, "#1010e8", 1.7),
              lines_layer([gray], ya, "#808080", 3.4)]
    if extra:
        layers.append(blobs_layer(extra, ya, interp="linear"))
    layers.append(lines_layer([black], ya, "#000000", 3.6))
    layers += inner_ticks(Z_TICKS, ya) + [box()]
    return alt.layer(*layers).properties(width=W, height=H, title=title)


def low_panel(title, ylab, blobs, red, blue):
    ya = y_spec([-25, 35], C_TICKS, ylab, 7.6, XAX_LOW)
    layers = [blobs_layer(blobs, ya),
              lines_layer([[(-90, 0), (90, 0)]], ya, "#000000", 1.6, interp="linear"),
              lines_layer([red], ya, "#f00000", 3.4),
              lines_layer([blue], ya, "#0a0ae6", 3.6)]
    layers += inner_ticks(C_TICKS, ya) + [box()]
    return alt.layer(*layers).properties(width=W, height=H, title=title)


def colorbar(edges, ticks, fmt, note=False):
    ys = alt.Scale(domain=[edges[-1], edges[0]], nice=False, zero=False)
    ax = alt.Axis(orient="right", values=ticks, grid=False, domain=False, ticks=False, labelPadding=6, format=fmt, labelOverlap=False, labelFlush=False, title=None)
    df = pd.DataFrame({"hi": edges[:-1], "lo": edges[1:], "f": BAR_COLORS})
    bars = alt.Chart(df).mark_rect().encode(
        x=alt.value(0), x2=alt.value(28),
        y=alt.Y("lo:Q", scale=ys, axis=ax),
        y2="hi:Q", fill=alt.Fill("f:N", scale=None))
    dy = pd.DataFrame({"y": ticks})
    rule = dict(color="black", strokeWidth=0.8)
    t1 = alt.Chart(dy).mark_rule(**rule).encode(y=alt.Y("y:Q", scale=ys, axis=ax), x=alt.value(0), x2=alt.value(2.5))
    t2 = alt.Chart(dy).mark_rule(**rule).encode(y=alt.Y("y:Q", scale=ys, axis=ax), x=alt.value(28), x2=alt.value(25.5))
    layers = [bars, t1, t2, box(28, H)]
    if note:
        layers.append(alt.Chart(pd.DataFrame({"t": ["x 10"]})).mark_text(align="left", baseline="alphabetic", fontSize=20, font=FONT, color="black").encode(
            x=alt.value(30), y=alt.value(-7), text="t:N"))
        layers.append(alt.Chart(pd.DataFrame({"t": ["\u22123"]})).mark_text(align="left", baseline="alphabetic", fontSize=14, font=FONT, color="black").encode(
            x=alt.value(68), y=alt.value(-18), text="t:N"))
    return alt.layer(*layers).properties(width=28, height=H)


pa = top_panel("(a) VX EN\u2212LN DJF 1981\u22122014", "Z (km)", A_BLOBS, A_MASK, A_HATCH, A_GREEN, A_DOTS, A_RED, A_BLUE, A_GRAY, A_BLACK)
pb = top_panel("(b) VX QBOW\u2212QBOE DJF 1981\u22122014", "Z (km)", B_BLOBS, B_MASK, B_HATCH, B_GREEN, B_DOTS, B_RED, B_BLUE, B_GRAY, B_BLACK, extra=B_U)
pc = low_panel("(c) VX EN\u2212LN DJF 420 K", "phase speed (m/s)", C_BLOBS, C_RED, C_BLUE)
pd_ = low_panel("(d) VX QBOW\u2212QBOE DJF 450 K", "phase speed (m/s)", D_BLOBS, D_RED, D_BLUE)
cb1 = colorbar(BAR1_EDGES, BAR1_TICKS, "~g")
cb2 = colorbar(BAR2_EDGES, BAR2_TICKS, "d", note=True)

chart = alt.vconcat(
    alt.hconcat(pa, spacer(5), pb, cb1, spacing=44),
    alt.hconcat(pc, spacer(0.5), pd_, cb2, spacing=44),
    spacing=36,
).properties(padding={"left": 3, "top": 1, "right": 0, "bottom": -2}
).configure_view(stroke=None
).configure_axis(labelFont=FONT, titleFont=FONT, labelFontSize=20, titleFontSize=20, titleFontWeight="normal", labelColor="black", titleColor="black"
).configure_title(font=FONT, fontSize=20.5, fontWeight="normal", color="black", offset=4, anchor="middle")

chart.save("out.html", embed_options={"renderer": "svg", "actions": False})
